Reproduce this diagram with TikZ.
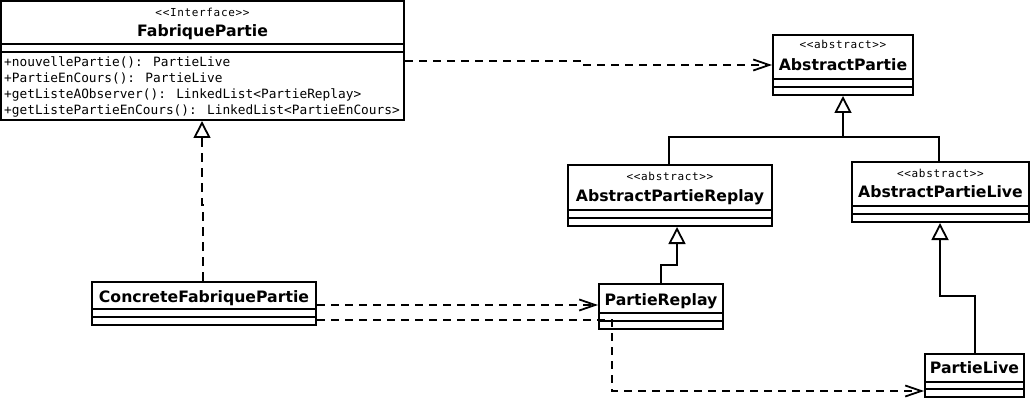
\documentclass[tikz,border=0pt]{standalone}
\usepackage{fontspec}
\usetikzlibrary{arrows.meta}
\newfontfamily\umlmono{DejaVu Sans Mono}
\newfontfamily\umlstereo[LetterSpace=6]{DejaVu Sans Mono}
\newfontfamily\umlsans{DejaVu Sans}
\tikzset{
  cls/.style={draw, line width=2pt, inner sep=0pt, fill=white},
  stereo/.style={font=\umlstereo\fontsize{11}{13}\selectfont, inner sep=0pt, anchor=base},
  cname/.style={font=\umlsans\bfseries\fontsize{15.7}{18}\selectfont, inner sep=0pt, anchor=base},
  meth/.style={font=\umlmono\fontsize{12.8}{16}\selectfont, inner sep=0pt, anchor=base west},
  divline/.style={line width=2pt},
  link/.style={line width=1.8pt},
  deplink/.style={line width=1.8pt, dash pattern=on 8pt off 6pt,
    -{Straight Barb[length=16pt,width=11pt,line width=1.8pt]}},
  reallink/.style={line width=1.8pt, dash pattern=on 9pt off 6pt,
    -{Triangle[open,length=17pt,width=17pt,line width=1.8pt]}},
  genlink/.style={line width=1.8pt,
    -{Triangle[open,length=17pt,width=17pt,line width=1.8pt]}},
}
\begin{document}
\begin{tikzpicture}[x=1pt,y=-1pt]
\useasboundingbox (0,0) rectangle (1032,403);

% FabriquePartie
\node[cls, minimum width=403pt, minimum height=119pt] (fp) at (202.5,60.5) {};
\draw[divline] (fp.west |- 0,44) -- (fp.east |- 0,44);
\draw[divline] (fp.west |- 0,52) -- (fp.east |- 0,52);
\node[stereo] (fpst) at (202.5,17) {{<}{<}Interface{>}{>}};
\node[cname] (fpnm) at (202.5,36.5) {FabriquePartie};
\node[meth] (fpm1) at (4,67) {+nouvellePartie(): PartieLive};
\node[meth] (fpm2) at (4,83) {+PartieEnCours(): PartieLive};
\node[meth] (fpm3) at (4,99) {+getListeAObserver(): LinkedList{<}PartieReplay{>}};
\node[meth] (fpm4) at (4,115) {+getListePartieEnCours(): LinkedList{<}PartieEnCours{>}};

% AbstractPartie
\node[cls, minimum width=140pt, minimum height=60pt] (ap) at (843,65) {};
\draw[divline] (ap.west |- 0,79) -- (ap.east |- 0,79);
\draw[divline] (ap.west |- 0,87) -- (ap.east |- 0,87);
\node[stereo] (apst) at (843,48.5) {{<}{<}abstract{>}{>}};
\node[cname] (apnm) at (843,71) {AbstractPartie};

% AbstractPartieReplay
\node[cls, minimum width=204pt, minimum height=61pt] (apr) at (670,195.5) {};
\draw[divline] (apr.west |- 0,210) -- (apr.east |- 0,210);
\draw[divline] (apr.west |- 0,218) -- (apr.east |- 0,218);
\node[stereo] (aprst) at (670,181) {{<}{<}abstract{>}{>}};
\node[cname] (aprnm) at (670,202) {AbstractPartieReplay};

% AbstractPartieLive
\node[cls, minimum width=177pt, minimum height=60pt] (apl) at (940.5,192) {};
\draw[divline] (apl.west |- 0,206) -- (apl.east |- 0,206);
\draw[divline] (apl.west |- 0,214) -- (apl.east |- 0,214);
\node[stereo] (aplst) at (940.5,178) {{<}{<}abstract{>}{>}};
\node[cname] (aplnm) at (940.5,197.5) {AbstractPartieLive};

% ConcreteFabriquePartie
\node[cls, minimum width=224pt, minimum height=43pt] (cfp) at (204,303.5) {};
\draw[divline] (cfp.west |- 0,309) -- (cfp.east |- 0,309);
\draw[divline] (cfp.west |- 0,317) -- (cfp.east |- 0,317);
\node[cname] (cfpnm) at (204,302) {ConcreteFabriquePartie};

% PartieReplay
\node[cls, minimum width=124pt, minimum height=45pt] (pr) at (661,306.5) {};
\draw[divline] (pr.west |- 0,313) -- (pr.east |- 0,313);
\draw[divline] (pr.west |- 0,321) -- (pr.east |- 0,321);
\node[cname] (prnm) at (661,305) {PartieReplay};

% PartieLive
\node[cls, minimum width=99pt, minimum height=43pt] (pl) at (974.5,375.5) {};
\draw[divline] (pl.west |- 0,382) -- (pl.east |- 0,382);
\draw[divline] (pl.west |- 0,389) -- (pl.east |- 0,389);
\node[cname] (plnm) at (974.5,373) {PartieLive};

% connectors
\draw[deplink] (fp.east |- 0,61) -- (582,61) -- (582,65) -- (ap.west |- 0,65);
\draw[reallink] (cfp.north -| 203,0) -- (203,205) -- (202,205) -- (fp.south -| 202,0);
\coordinate (jn) at (843,137);
\draw[genlink] (apr.north -| 669,0) -- (669,137) -- (jn) -- (ap.south);
\draw[link] (apl.north -| 939,0) -- (939,137) -- (jn);
\draw[genlink] (pr.north -| 661,0) -- (661,265) -- (677,265) -- (apr.south -| 677,0);
\draw[genlink] (pl.north -| 975,0) -- (975,296) -- (940,296) -- (apl.south -| 940,0);
\draw[deplink] (cfp.east |- 0,305) -- (pr.west |- 0,305);
\draw[deplink] (cfp.east |- 0,320) -- (612,320) -- (612,391) -- (pl.west |- 0,391);
\end{tikzpicture}
\end{document}
